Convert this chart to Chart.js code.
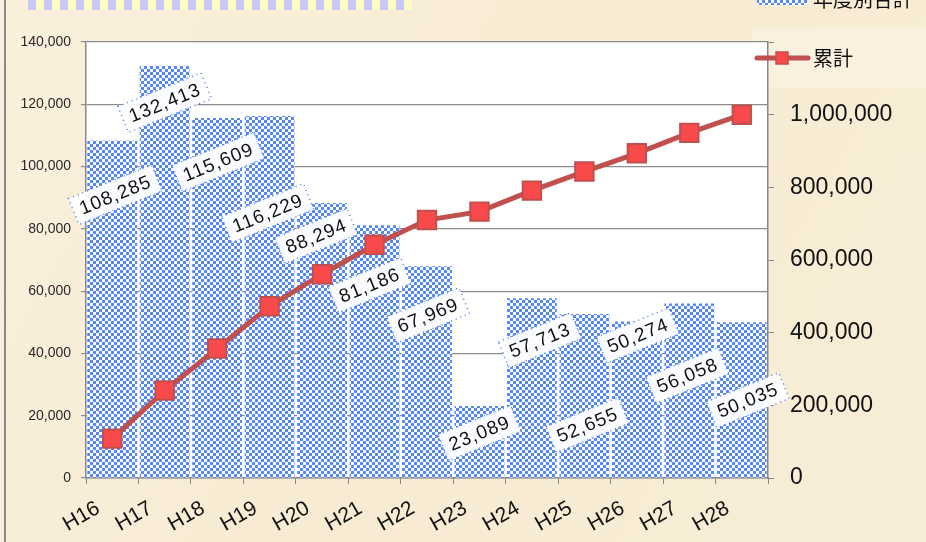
<!DOCTYPE html>
<html>
<head>
<meta charset="utf-8">
<script src="https://cdn.jsdelivr.net/npm/chart.js@4"></script>
<style>
  html, body { margin: 0; padding: 0; background: #f8edd7; }
  #wrap { width: 926px; height: 542px; }
</style>
</head>
<body>
<div id="wrap"><canvas id="myChart" width="926" height="542"></canvas></div>
<script>
const categories = ['H16', 'H17', 'H18', 'H19', 'H20', 'H21', 'H22', 'H23', 'H24', 'H25', 'H26', 'H27', 'H28'];
const annualTotals = [108285, 132413, 115609, 116229, 88294, 81186, 67969, 23089, 57713, 52655, 50274, 56058, 50035];
const cumulative = [108285, 240698, 356307, 472536, 560830, 642016, 709985, 733074, 790787, 843442, 893716, 949774, 999809];
const seriesNames = ['年度別合計', '累計'];

// where each value box sits, relative to the top of its bar (px)
const labelShiftX = [3, 0, 1, -2, -6, -5, 1, 0, 8, 3, 1, -2, 6];
const labelShiftY = [54, 37, 44, 97, 33, 60, 49, 27, 42, 111, 14, 72, 78];

const fmt = v => v.toLocaleString('en-US');
const baseFont = "'Liberation Sans', 'DejaVu Sans', sans-serif";
const jpFont = "'Noto Sans CJK JP', sans-serif";

// blue / white checker fill
function checker() {
  const c = document.createElement('canvas');
  c.width = 6; c.height = 6;
  const g = c.getContext('2d');
  g.fillStyle = '#ffffff';
  g.fillRect(0, 0, 6, 6);
  g.fillStyle = '#5588f8';
  g.fillRect(0, 0, 3, 3);
  g.fillRect(3, 3, 3, 3);
  return g.createPattern(c, 'repeat');
}

const ctx = document.getElementById('myChart').getContext('2d');
const barFill = checker();

const backdrop = {
  id: 'backdrop',
  beforeDraw(chart) {
    const c = chart.ctx, a = chart.chartArea;
    c.save();
    const grad = c.createLinearGradient(0, 0, chart.width, chart.height);
    grad.addColorStop(0, '#faf0dc');
    grad.addColorStop(0.5, '#f7ebd3');
    grad.addColorStop(1, '#f8edd6');
    c.fillStyle = grad;
    c.fillRect(0, 0, chart.width, chart.height);
    // lighter patch behind the legend
    c.fillStyle = 'rgba(255,255,255,0.25)';
    c.fillRect(752, 28, 174, 60);
    // title strip at the top
    for (let x = 28; x < 397; x += 16) {
      c.fillStyle = '#c9c8fb';
      c.fillRect(x, 0, 8, 10);
      c.fillStyle = '#fdfcc4';
      c.fillRect(x + 8, 0, 8, 10);
    }
    // frame line on the left
    c.strokeStyle = '#8a8a8a';
    c.lineWidth = 2;
    c.beginPath(); c.moveTo(5, 0); c.lineTo(5, chart.height); c.stroke();
    c.fillStyle = '#ffffff';
    c.fillRect(a.left, a.top, a.right - a.left, a.bottom - a.top);
    c.restore();
  }
};

const valueBoxes = {
  id: 'valueBoxes',
  afterDatasetsDraw(chart) {
    const c = chart.ctx;
    const bars = chart.getDatasetMeta(0).data;
    c.save();
    c.font = '19px ' + baseFont;
    c.letterSpacing = '1px';
    bars.forEach((bar, i) => {
      const txt = fmt(annualTotals[i]);
      const w = c.measureText(txt).width;
      c.save();
      c.translate(bar.x + labelShiftX[i], bar.y + labelShiftY[i]);
      c.rotate(-22 * Math.PI / 180);
      c.fillStyle = 'rgba(255,255,255,0.95)';
      c.fillRect(-w / 2 - 7, -14, w + 14, 28);
      c.setLineDash([1, 4]);
      c.strokeStyle = '#4a7cf0';
      c.lineWidth = 1.5;
      c.strokeRect(-w / 2 - 7, -14, w + 14, 28);
      c.fillStyle = '#111';
      c.textAlign = 'center';
      c.textBaseline = 'middle';
      c.fillText(txt, 0, 1);
      c.restore();
    });
    c.restore();
  }
};

const legendBox = {
  id: 'legendBox',
  afterDraw(chart) {
    const c = chart.ctx;
    c.save();
    c.font = '20px ' + jpFont;
    c.textBaseline = 'middle';
    // bar entry (cut by the top edge)
    c.fillStyle = barFill;
    c.fillRect(757, -6, 50, 11);
    c.fillStyle = '#111';
    c.fillText(seriesNames[0], 813, -1);
    // line entry
    c.strokeStyle = '#c0504d';
    c.lineWidth = 5;
    c.lineCap = 'round';
    c.beginPath(); c.moveTo(757, 58); c.lineTo(808, 58); c.stroke();
    c.fillStyle = '#f84a4a';
    c.fillRect(776, 52, 12, 12);
    c.strokeStyle = '#c0504d';
    c.lineWidth = 1.5;
    c.strokeRect(776, 52, 12, 12);
    c.fillStyle = '#111';
    c.fillText(seriesNames[1], 813, 58);
    c.restore();
  }
};

const myChart = new Chart(ctx, {
  data: {
    labels: categories,
    datasets: [{
      type: 'bar',
      label: seriesNames[0],
      data: annualTotals,
      backgroundColor: barFill,
      borderWidth: 0,
      barPercentage: 0.95,
      categoryPercentage: 1,
      yAxisID: 'y',
      order: 2
    }, {
      type: 'line',
      label: seriesNames[1],
      data: cumulative,
      borderColor: '#c0504d',
      borderWidth: 5,
      pointStyle: 'rect',
      pointRadius: 13,
      pointBackgroundColor: '#f84a4a',
      pointBorderColor: '#c0504d',
      pointBorderWidth: 2,
      tension: 0,
      yAxisID: 'y2',
      order: 1
    }]
  },
  options: {
    responsive: false,
    animation: false,
    layout: { padding: { top: 42, left: 0, right: 0, bottom: 0 } },
    plugins: {
      legend: { display: false },
      title: { display: false },
      tooltip: { enabled: false }
    },
    scales: {
      x: {
        offset: true,
        afterFit(s) { s.height = 64; },
        grid: { display: true, offset: true, drawOnChartArea: false, tickLength: 6, color: '#888' },
        border: { color: '#888', width: 1.5 },
        ticks: {
          minRotation: 30, maxRotation: 30,
          labelOffset: -14, padding: 12,
          color: '#111',
          font: { family: baseFont, size: 21 }
        }
      },
      y: {
        position: 'left',
        min: 0, max: 140000,
        afterFit(s) { s.width = 86; },
        grid: { color: '#8c8c8c', lineWidth: 1.2, tickLength: 5 },
        border: { color: '#888', width: 1.5 },
        ticks: {
          stepSize: 20000,
          padding: 10,
          color: '#2a2a2a',
          font: { family: baseFont, size: 14 },
          callback: v => fmt(v)
        }
      },
      y2: {
        position: 'right',
        min: 0, max: 1200000,
        afterFit(s) { s.width = 158; },
        grid: { drawOnChartArea: false, color: '#888', tickLength: 6 },
        border: { color: '#888', width: 1.5 },
        ticks: {
          stepSize: 200000,
          padding: 16,
          color: '#111',
          font: { family: baseFont, size: 23 },
          callback: v => (v >= 1200000 ? '' : fmt(v))
        }
      }
    }
  },
  plugins: [backdrop, valueBoxes, legendBox]
});
</script>
</body>
</html>
